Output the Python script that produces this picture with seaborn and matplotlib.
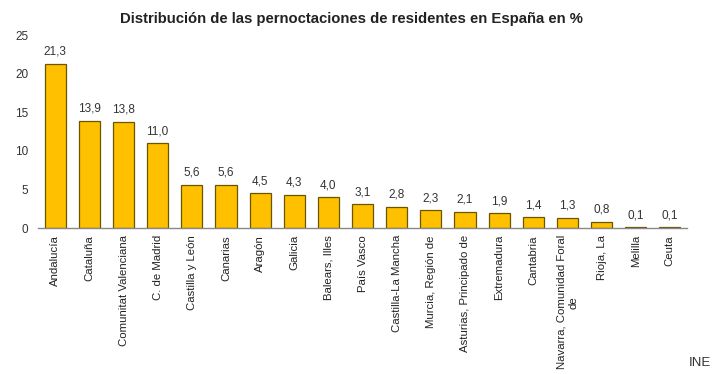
import numpy as np
import matplotlib
matplotlib.use("Agg")
import matplotlib.pyplot as plt
import seaborn as sns

# data
regiones = ["Andalucía", "Cataluña", "Comunitat Valenciana", "C. de Madrid",
            "Castilla y León", "Canarias", "Aragón", "Galicia", "Balears, Illes",
            "País Vasco", "Castilla-La Mancha", "Murcia, Región de",
            "Asturias, Principado de", "Extremadura", "Cantabria",
            "Navarra, Comunidad Foral\nde", "Rioja, La", "Melilla", "Ceuta"]
porcentaje = [21.3, 13.9, 13.8, 11.0, 5.6, 5.6, 4.5, 4.3, 4.0, 3.1, 2.8,
              2.3, 2.1, 1.9, 1.4, 1.3, 0.8, 0.1, 0.1]
yticks = [0, 5, 10, 15, 20, 25]

sns.set_style("white")
plt.rcParams["font.family"] = ["Liberation Sans", "DejaVu Sans"]

fig = plt.figure(figsize=(7.2, 3.74), dpi=100)
ax = fig.add_axes([0.053, 0.39, 0.901, 0.516])

sns.barplot(x=regiones, y=porcentaje, color="#FFC000", saturation=1,
            edgecolor="#6b5600", linewidth=0.9, width=0.62, ax=ax)

for i, v in enumerate(porcentaje):
    ax.text(i, v + 0.8, f"{v:.1f}".replace(".", ","), ha="center", va="bottom",
            fontsize=8.5, color="#333333")

ax.set_ylim(0, 25)
ax.set_xlim(-0.5, len(regiones) - 0.5)
ax.set_yticks(yticks)
ax.tick_params(axis="y", length=0, labelsize=8.5, colors="#333333", pad=7)
ax.tick_params(axis="x", which="major", length=0, labelsize=8.2, colors="#222222", pad=5)
ax.set_xticks(np.arange(len(regiones)), regiones, rotation=90)
for lbl in ax.get_xticklabels():
    lbl.set_multialignment("center")
ax.set_xticks(np.arange(len(regiones) + 1) - 0.5, minor=True)
ax.tick_params(axis="x", which="minor", length=3, color="#888888", width=0.8)

for s in ["top", "right", "left"]:
    ax.spines[s].set_visible(False)
ax.spines["bottom"].set_color("#888888")
ax.spines["bottom"].set_linewidth(1.0)

fig.text(0.488, 0.95, "Distribución de las pernoctaciones de residentes en España en %",
         ha="center", va="center", fontsize=10.7, fontweight="bold", color="#222222")
fig.text(0.988, 0.03, "INE", ha="right", va="center", fontsize=9.5, color="#333333")

fig.savefig("out.png", dpi=100)
